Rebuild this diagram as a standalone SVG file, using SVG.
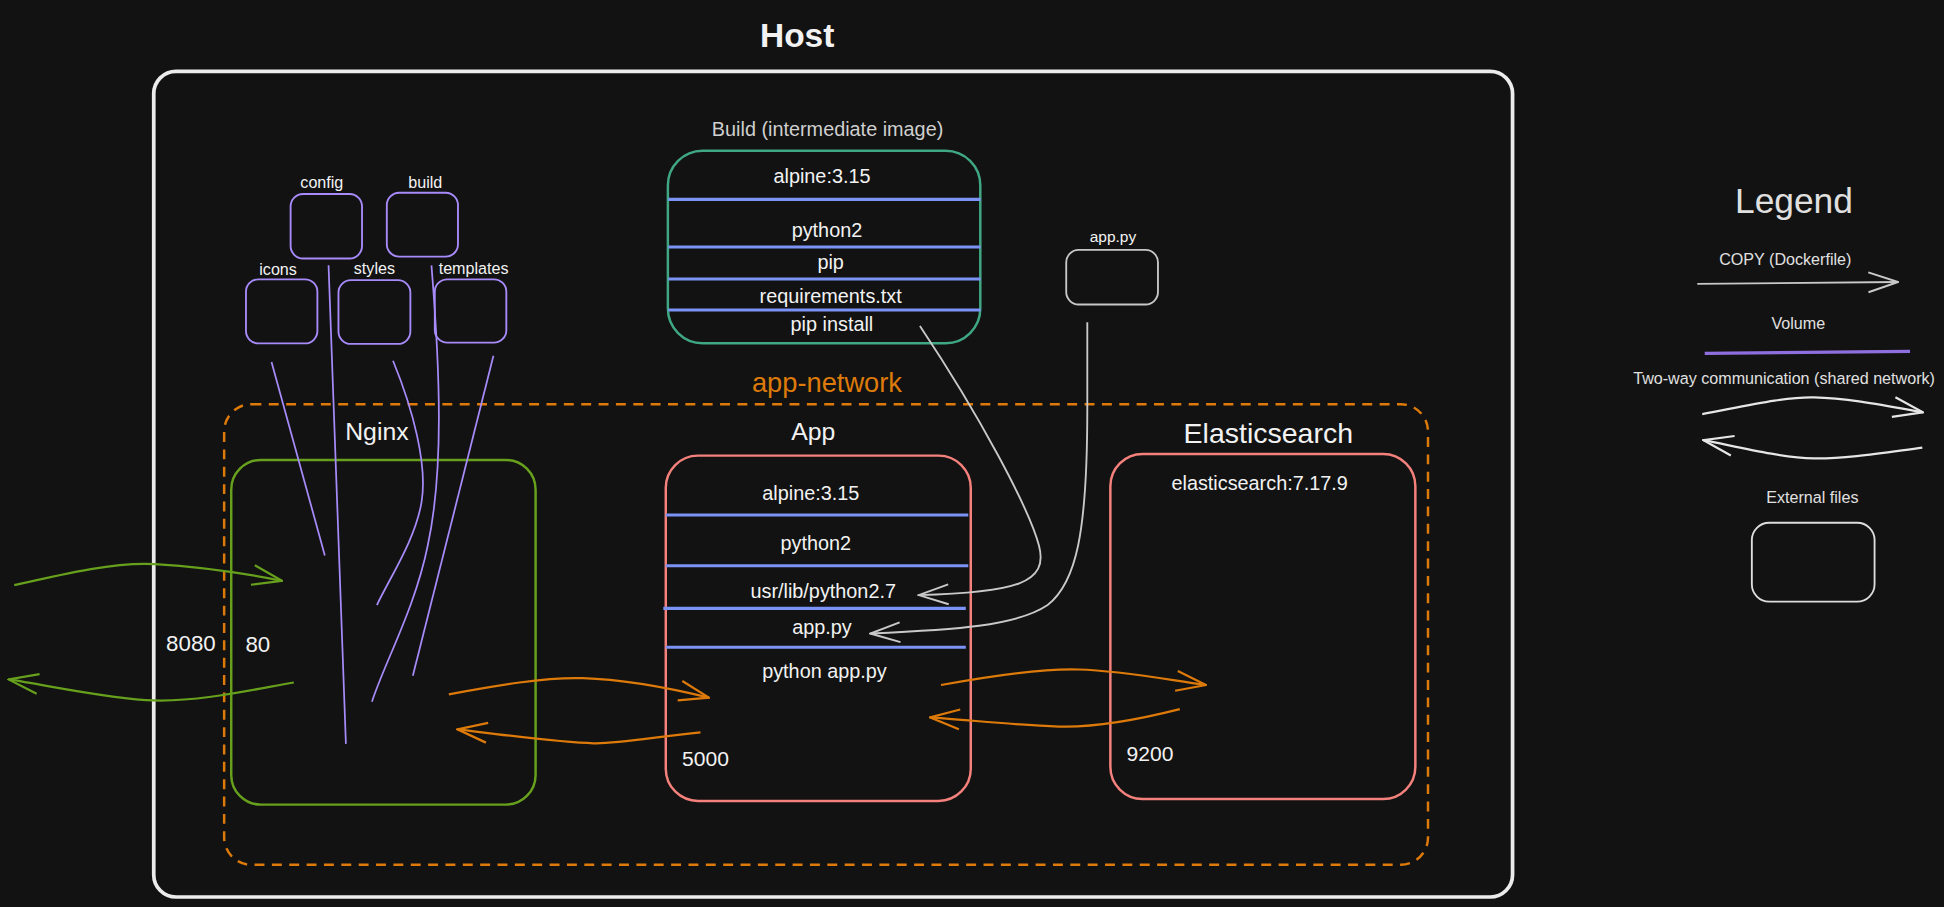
<svg xmlns="http://www.w3.org/2000/svg" width="1944" height="907" viewBox="0 0 1944 907">
<style>
  text { font-family: "Liberation Sans", Arial, sans-serif; fill: #f2f2f2; text-anchor: middle; }
  .box { fill: none; stroke-linejoin: round; }
  .layer { stroke: #7b93f5; stroke-width: 2.5; fill: none; }
  .vol { stroke: #a78bfa; stroke-width: 1.4; fill: none; }
  .copy { stroke: #c9c9c9; stroke-width: 1.5; fill: none; }
  .org { stroke: #dd7a0a; stroke-width: 1.8; fill: none; }
  .grn { stroke: #67a01c; stroke-width: 1.8; fill: none; }
  .wht { stroke: #e6e6e6; stroke-width: 1.8; fill: none; }
  .small { font-size: 13px; }
  .layertxt { font-size: 16px; }
  .title { font-size: 20px; }
  .legend text { fill: #e0e0e0; }
</style>
<defs>
  <marker id="mk-gray" viewBox="0 0 26 20" refX="25" refY="10" markerWidth="26" markerHeight="20" markerUnits="userSpaceOnUse" orient="auto">
    <path d="M1,2 L25,10 L1,18" fill="none" stroke="#c9c9c9" stroke-width="1.6"/>
  </marker>
  <marker id="mk-org" viewBox="0 0 26 20" refX="25" refY="10" markerWidth="26" markerHeight="20" markerUnits="userSpaceOnUse" orient="auto">
    <path d="M1,2 L25,10 L1,18" fill="none" stroke="#dd7a0a" stroke-width="1.8"/>
  </marker>
  <marker id="mk-grn" viewBox="0 0 26 20" refX="25" refY="10" markerWidth="26" markerHeight="20" markerUnits="userSpaceOnUse" orient="auto">
    <path d="M1,2 L25,10 L1,18" fill="none" stroke="#67a01c" stroke-width="1.8"/>
  </marker>
  <marker id="mk-wht" viewBox="0 0 26 20" refX="25" refY="10" markerWidth="26" markerHeight="20" markerUnits="userSpaceOnUse" orient="auto">
    <path d="M1,2 L25,10 L1,18" fill="none" stroke="#e6e6e6" stroke-width="1.8"/>
  </marker>
</defs>
<rect x="0" y="0" width="1944" height="907" fill="#121212"/>
<g transform="scale(1.2398)">
  <g id="host">
    <text x="643" y="38" style="font-size:27px;font-weight:bold">Host</text>
    <rect class="box" x="124" y="57.5" width="1096" height="666" rx="18" stroke="#ececec" stroke-width="3"/>
  </g>

  <g id="app-network">
    <text x="667" y="316" style="font-size:22px;fill:#dd7a0a">app-network</text>
    <rect class="box" x="180.8" y="326" width="971" height="371.5" rx="22" stroke="#dd7a0a" stroke-width="2" stroke-dasharray="8 6"/>
  </g>

  <g id="build-image">
    <text x="667.5" y="109.5" style="font-size:16px;fill:#cfcfcf">Build (intermediate image)</text>
    <rect class="box" x="538.7" y="121.5" width="252" height="155.4" rx="28" stroke="#3fa883" stroke-width="2"/>
    <line class="layer" x1="539" y1="160.8" x2="791" y2="160.8"/>
    <line class="layer" x1="539" y1="199.2" x2="791" y2="199.2"/>
    <line class="layer" x1="539" y1="225" x2="791" y2="225"/>
    <line class="layer" x1="539" y1="250" x2="791" y2="250"/>
    <text class="layertxt" x="663" y="148">alpine:3.15</text>
    <text class="layertxt" x="667" y="191">python2</text>
    <text class="layertxt" x="670" y="217">pip</text>
    <text class="layertxt" x="670" y="244">requirements.txt</text>
    <text class="layertxt" x="671" y="267">pip install</text>
  </g>

  <g id="ext-app-py">
    <text x="897.7" y="195" style="font-size:12.5px">app.py</text>
    <rect class="box" x="860" y="201.6" width="74" height="44" rx="10" stroke="#c7c7c7" stroke-width="1.5"/>
  </g>

  <g id="dir-config">
    <text class="small" x="259.6" y="152">config</text>
    <rect class="box" x="234.4" y="156.5" width="57.6" height="52" rx="10" stroke="#a78bfa" stroke-width="1.5"/>
  </g>
  <g id="dir-build">
    <text class="small" x="343" y="152">build</text>
    <rect class="box" x="312" y="155.5" width="57.4" height="51.5" rx="10" stroke="#a78bfa" stroke-width="1.5"/>
  </g>
  <g id="dir-icons">
    <text class="small" x="224.3" y="222">icons</text>
    <rect class="box" x="198.4" y="225.3" width="57.6" height="51.7" rx="10" stroke="#a78bfa" stroke-width="1.5"/>
  </g>
  <g id="dir-styles">
    <text class="small" x="302" y="221">styles</text>
    <rect class="box" x="273" y="226" width="58" height="51.4" rx="10" stroke="#a78bfa" stroke-width="1.5"/>
  </g>
  <g id="dir-templates">
    <text class="small" x="382" y="221">templates</text>
    <rect class="box" x="350.7" y="225.3" width="57.7" height="51" rx="10" stroke="#a78bfa" stroke-width="1.5"/>
  </g>

  <g id="nginx">
    <text class="title" x="304" y="355">Nginx</text>
    <rect class="box" x="186.5" y="371" width="245.5" height="278" rx="24" stroke="#67a01c" stroke-width="2"/>
    <text x="154" y="525" style="font-size:18px">8080</text>
    <text x="208" y="526" style="font-size:18px">80</text>
  </g>

  <g id="app">
    <text class="title" x="656" y="355">App</text>
    <rect class="box" x="537" y="367.5" width="246" height="278.5" rx="26" stroke="#f4817c" stroke-width="2"/>
    <line class="layer" x1="537" y1="415.4" x2="781" y2="415.4"/>
    <line class="layer" x1="537" y1="456.3" x2="781" y2="456.3"/>
    <line class="layer" x1="535" y1="490.7" x2="779" y2="490.7"/>
    <line class="layer" x1="537" y1="522" x2="779" y2="522"/>
    <text class="layertxt" x="654" y="403">alpine:3.15</text>
    <text class="layertxt" x="658" y="444">python2</text>
    <text class="layertxt" x="664" y="482">usr/lib/python2.7</text>
    <text class="layertxt" x="663" y="511">app.py</text>
    <text class="layertxt" x="665" y="547">python app.py</text>
    <text x="569" y="618" style="font-size:17px">5000</text>
  </g>

  <g id="elasticsearch">
    <text x="1023" y="357" style="font-size:23px">Elasticsearch</text>
    <rect class="box" x="895.6" y="366.2" width="246" height="278.3" rx="26" stroke="#f4817c" stroke-width="2"/>
    <text class="layertxt" x="1016" y="395">elasticsearch:7.17.9</text>
    <text x="927.6" y="614" style="font-size:17px">9200</text>
  </g>

  <g id="connectors">
    <path class="vol" d="M219,292 L262,448"/>
    <path class="vol" d="M265,214 L279,600"/>
    <path class="vol" d="M317,291 C333,330 345,375 340,405 C335,435 315,465 304,488"/>
    <path class="vol" d="M348,214 C355,300 358,380 345,440 C335,490 310,535 300,566"/>
    <path class="vol" d="M398,287 L333,545"/>

    <path class="copy" d="M742,263 C790,335 830,410 838,440 C846,470 820,478 741,480" marker-end="url(#mk-gray)"/>
    <path class="copy" d="M877,260 L877,330 C877,430 868,470 845,488 C820,505 770,508 702,511" marker-end="url(#mk-gray)"/>

    <path class="grn" d="M11.5,472 C55,462 95,453 125,455 C160,457 195,462 227.5,468.5" marker-end="url(#mk-grn)"/>
    <path class="grn" d="M237,550.5 C200,557 160,566 124,565 C90,564 40,553 7,548" marker-end="url(#mk-grn)"/>

    <path class="org" d="M362,560 C400,553 440,546 470,547 C505,548 540,555 571.8,562.7" marker-end="url(#mk-org)"/>
    <path class="org" d="M565,590.7 C530,594 500,600 479,599.5 C450,599 410,593 369,588.3" marker-end="url(#mk-org)"/>
    <path class="org" d="M759,552.5 C800,545 840,539 870,540 C905,541 940,548 972.7,552.5" marker-end="url(#mk-org)"/>
    <path class="org" d="M951.6,572 C920,580 885,587 854,586 C820,585 785,581 750,578.6" marker-end="url(#mk-org)"/>
  </g>

  <g id="legend" class="legend">
    <text x="1447" y="172" style="font-size:28.5px">Legend</text>
    <text x="1440" y="213.7" style="font-size:13px">COPY (Dockerfile)</text>
    <path class="copy" d="M1369,229 L1531,227.5" marker-end="url(#mk-gray)"/>
    <text x="1450.5" y="265.6" style="font-size:13px">Volume</text>
    <path d="M1375,285 L1540.6,283.4" stroke="#8f6fe0" stroke-width="2.5" fill="none"/>
    <text x="1439" y="310" style="font-size:13px">Two-way communication (shared network)</text>
    <path class="wht" d="M1373,334 C1410,327 1440,320 1463,320.5 C1490,321 1520,327 1551,332.6" marker-end="url(#mk-wht)"/>
    <path class="wht" d="M1550.5,361 C1520,365 1490,370 1463,369.7 C1435,369 1400,360 1374,355" marker-end="url(#mk-wht)"/>
    <text x="1461.8" y="406" style="font-size:13px">External files</text>
    <rect class="box" x="1413" y="421.6" width="99" height="63.7" rx="14" stroke="#dddddd" stroke-width="1.5"/>
  </g>
</g>
</svg>
